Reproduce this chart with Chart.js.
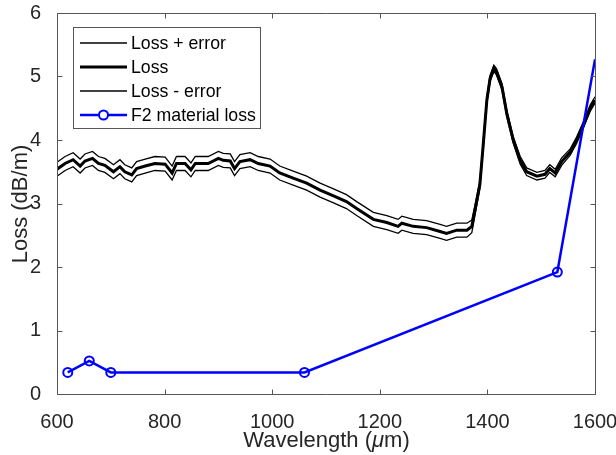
<!DOCTYPE html>
<html>
<head>
<meta charset="utf-8">
<script src="https://cdn.jsdelivr.net/npm/chart.js@4"></script>
<style>
html, body { margin: 0; padding: 0; background: #fff; overflow: hidden; }
canvas { display: block; }
</style>
</head>
<body>
<canvas id="lossChart" width="616" height="455"></canvas>
<script>
// measured loss curve (dB/m) vs wavelength
const wavelength = [600, 615, 630, 643, 652, 666, 677, 689, 705, 717, 726, 739, 748, 764, 782, 801,
  814, 822, 838, 849, 857, 871, 881, 900, 909, 922, 930, 940, 959, 974, 996, 1014,
  1039, 1064, 1089, 1114, 1138, 1157, 1188, 1213, 1234, 1241, 1262, 1287, 1312, 1324, 1343, 1362,
  1371, 1377, 1386, 1392, 1399, 1405, 1412, 1417, 1427, 1436, 1448, 1461, 1473, 1492, 1507, 1516,
  1526, 1538, 1554, 1566, 1578, 1591, 1600];
const loss = [3.54, 3.63, 3.69, 3.59, 3.67, 3.71, 3.63, 3.60, 3.50, 3.58, 3.50, 3.45, 3.55, 3.59, 3.63, 3.62,
  3.48, 3.63, 3.63, 3.53, 3.63, 3.63, 3.63, 3.71, 3.68, 3.67, 3.55, 3.66, 3.69, 3.63, 3.59, 3.48,
  3.40, 3.32, 3.21, 3.12, 3.03, 2.92, 2.75, 2.70, 2.64, 2.69, 2.64, 2.62, 2.56, 2.53, 2.58, 2.58,
  2.64, 2.90, 3.30, 3.90, 4.63, 4.97, 5.13, 5.07, 4.84, 4.42, 4.00, 3.68, 3.50, 3.43, 3.46, 3.55,
  3.48, 3.66, 3.81, 4.00, 4.23, 4.50, 4.63];
const lossError = [0.11, 0.11, 0.11, 0.11, 0.11, 0.11, 0.11, 0.11, 0.11, 0.11, 0.11, 0.11, 0.11, 0.11, 0.11, 0.11,
  0.11, 0.11, 0.11, 0.11, 0.11, 0.11, 0.11, 0.11, 0.11, 0.11, 0.11, 0.11, 0.11, 0.11, 0.11, 0.11,
  0.11, 0.11, 0.11, 0.11, 0.11, 0.11, 0.11, 0.11, 0.11, 0.11, 0.11, 0.11, 0.11, 0.11, 0.11, 0.11,
  0.10, 0.08, 0.06, 0.05, 0.05, 0.05, 0.05, 0.05, 0.05, 0.05, 0.05, 0.06, 0.06, 0.06, 0.06, 0.06,
  0.06, 0.06, 0.05, 0.05, 0.05, 0.05, 0.05];

// F2 glass material loss (last point has no marker in the original)
const f2Wavelength = [620, 660, 700, 1060, 1530, 1600];
const f2Loss = [0.34, 0.52, 0.34, 0.34, 1.92, 5.27];

const xTicks = [600, 800, 1000, 1200, 1400, 1600];
const yTicks = [0, 1, 2, 3, 4, 5, 6];

const FONT = '"Liberation Sans", Arial, Helvetica, sans-serif';
const AXIS_COL = '#262626';
const FRAME_COL = '#555555';
const MARKER_R = 4.5;

const pts = (xs, ys) => xs.map((x, i) => ({ x: x, y: ys[i] }));
const upper = loss.map((v, i) => +(v + lossError[i]).toFixed(3));
const lower = loss.map((v, i) => +(v - lossError[i]).toFixed(3));

// box + inward ticks on every side, titles, legend
const framePlugin = {
  id: 'frame',
  afterDraw(chart) {
    const c = chart.ctx;
    const xs = chart.scales.x, ys = chart.scales.y;
    const L = Math.round(xs.getPixelForValue(xTicks[0])) + 0.5;
    const R = Math.round(xs.getPixelForValue(xTicks[xTicks.length - 1])) + 0.5;
    const B = Math.round(ys.getPixelForValue(yTicks[0])) + 0.5;
    const T = Math.round(ys.getPixelForValue(yTicks[yTicks.length - 1])) + 0.5;
    c.save();
    c.strokeStyle = FRAME_COL;
    c.lineWidth = 1;
    c.beginPath();
    c.moveTo(L, T); c.lineTo(R, T); c.lineTo(R, B); c.lineTo(L, B); c.closePath();
    xTicks.forEach(t => {
      const p = Math.round(xs.getPixelForValue(t)) + 0.5;
      c.moveTo(p, B); c.lineTo(p, B - 5);
      c.moveTo(p, T); c.lineTo(p, T + 5);
    });
    yTicks.forEach(t => {
      const p = Math.round(ys.getPixelForValue(t)) + 0.5;
      c.moveTo(L, p); c.lineTo(L + 5, p);
      c.moveTo(R, p); c.lineTo(R - 5, p);
    });
    c.stroke();

    // axis titles
    c.fillStyle = AXIS_COL;
    c.textBaseline = 'middle';
    const cx = (L + R) / 2;
    const f1 = '22px ' + FONT, f2 = 'italic 22px ' + FONT;
    const parts = [['Wavelength (', f1], ['\u03bc', f2], ['m)', f1]];
    let w = 0;
    parts.forEach(p => { c.font = p[1]; w += c.measureText(p[0]).width; });
    let x = cx - w / 2;
    c.textAlign = 'left';
    parts.forEach(p => { c.font = p[1]; c.fillText(p[0], x, 441); x += c.measureText(p[0]).width; });

    c.save();
    c.translate(21, (T + B) / 2);
    c.rotate(-Math.PI / 2);
    c.textAlign = 'center';
    c.font = f1;
    c.fillText('Loss (dB/m)', 0, 0);
    c.restore();

    // legend
    const lx = 73, ly = 27, lw = 187, lh = 101;
    c.fillStyle = '#fff';
    c.fillRect(lx, ly, lw, lh);
    c.strokeStyle = FRAME_COL;
    c.lineWidth = 1;
    c.strokeRect(lx + 0.5, ly + 0.5, lw, lh);
    c.font = '17.7px ' + FONT;
    c.textAlign = 'left';
    chart.data.datasets.forEach((ds, i) => {
      const y = 43 + i * 24;
      c.strokeStyle = ds.borderColor;
      c.lineWidth = ds.borderWidth;
      c.beginPath(); c.moveTo(80, y); c.lineTo(127, y); c.stroke();
      if (ds.pointBorderWidth) {
        c.lineWidth = ds.pointBorderWidth;
        c.fillStyle = '#fff';
        c.beginPath(); c.arc(103.5, y, MARKER_R, 0, Math.PI * 2); c.fill(); c.stroke();
      }
      c.fillStyle = '#000';
      c.fillText(ds.label, 131, y + 1);
    });
    c.restore();
  }
};

new Chart(document.getElementById('lossChart'), {
  type: 'line',
  data: {
    datasets: [
      { label: 'Loss + error', data: pts(wavelength, upper), borderColor: '#000', borderWidth: 1.3, pointRadius: 0, order: 1 },
      { label: 'Loss', data: pts(wavelength, loss), borderColor: '#000', borderWidth: 3, pointRadius: 0, order: 1 },
      { label: 'Loss - error', data: pts(wavelength, lower), borderColor: '#000', borderWidth: 1.3, pointRadius: 0, order: 1 },
      { label: 'F2 material loss', data: pts(f2Wavelength, f2Loss), borderColor: '#0000ff', borderWidth: 2.5,
        pointRadius: ctx => ctx.dataIndex === f2Loss.length - 1 ? 0 : MARKER_R,
        pointBorderWidth: 2, pointBorderColor: '#0000ff', pointBackgroundColor: 'rgba(0,0,0,0)', order: 0 }
    ]
  },
  options: {
    responsive: false,
    animation: false,
    devicePixelRatio: 1,
    layout: { padding: { top: 13, right: 21, left: 0, bottom: 0 } },
    plugins: { legend: { display: false }, tooltip: { enabled: false } },
    elements: { line: { tension: 0 } },
    scales: {
      x: {
        type: 'linear', min: 600, max: 1600,
        ticks: { stepSize: 200, color: AXIS_COL, font: { family: FONT, size: 20 }, padding: 8, maxRotation: 0,
          callback: v => String(v) },
        grid: { display: false },
        border: { display: false },
        afterFit(s) { s.height = 61; s.paddingLeft = 0; s.paddingRight = 0; }
      },
      y: {
        min: 0, max: 6,
        ticks: { stepSize: 1, color: AXIS_COL, font: { family: FONT, size: 20 }, padding: 8,
          callback: v => String(v) },
        grid: { display: false },
        border: { display: false },
        afterFit(s) { s.width = 57; s.paddingTop = 0; s.paddingBottom = 0; }
      }
    }
  },
  plugins: [framePlugin]
});
</script>
</body>
</html>
